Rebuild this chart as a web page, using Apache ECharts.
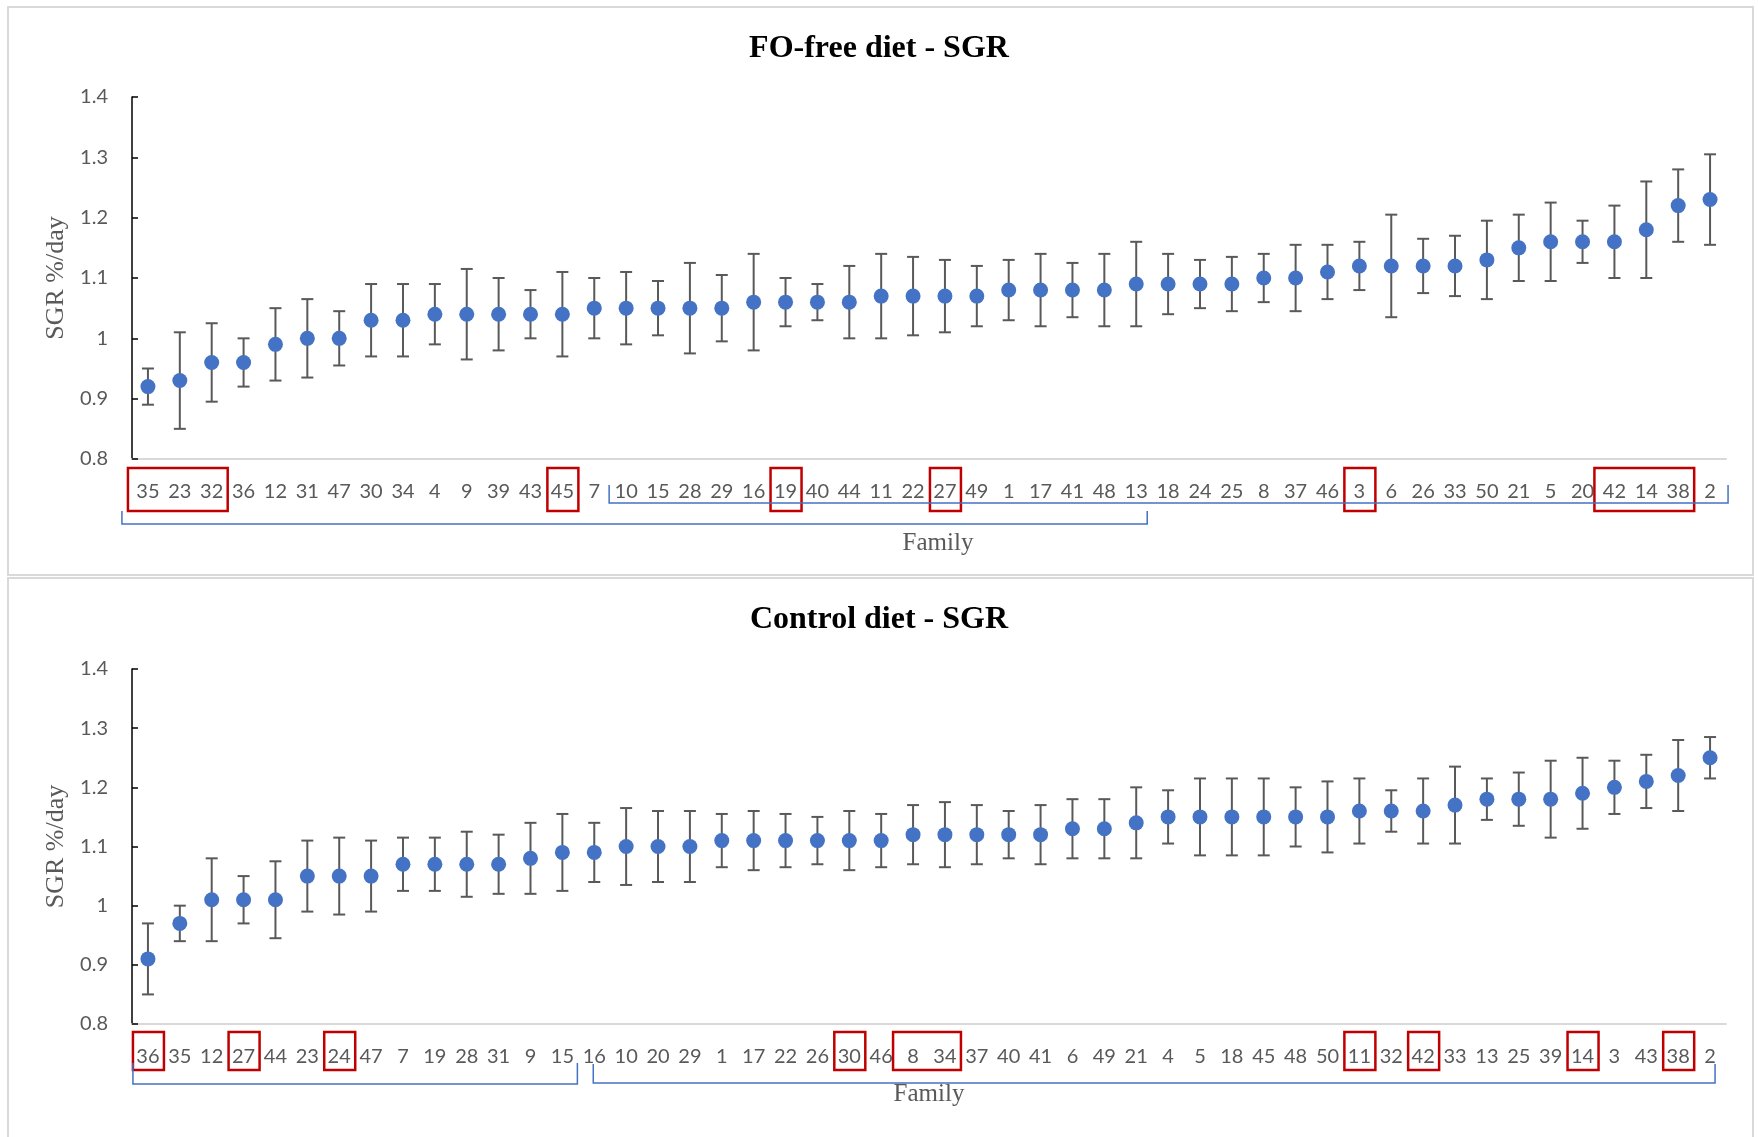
<!DOCTYPE html>
<html>
<head>
<meta charset="utf-8">
<script src="https://cdn.jsdelivr.net/npm/echarts@6/dist/echarts.min.js"></script>
<style>
  html, body { margin: 0; padding: 0; background: #ffffff; }
  #chart { width: 1758px; height: 1137px; }
</style>
</head>
<body>
<div id="chart"></div>
<script>
// Families ranked by SGR, fish-oil-free diet
const foFreeFamilies = [35, 23, 32, 36, 12, 31, 47, 30, 34, 4, 9, 39, 43, 45, 7, 10, 15, 28, 29, 16,
  19, 40, 44, 11, 22, 27, 49, 1, 17, 41, 48, 13, 18, 24, 25, 8, 37, 46, 3, 6,
  26, 33, 50, 21, 5, 20, 42, 14, 38, 2];
const foFreeSGR = [0.92, 0.93, 0.96, 0.96, 0.99, 1.00, 1.00, 1.03, 1.03, 1.04, 1.04, 1.04, 1.04, 1.04, 1.05, 1.05, 1.05, 1.05, 1.05, 1.06,
  1.06, 1.06, 1.06, 1.07, 1.07, 1.07, 1.07, 1.08, 1.08, 1.08, 1.08, 1.09, 1.09, 1.09, 1.09, 1.10, 1.10, 1.11, 1.12, 1.12,
  1.12, 1.12, 1.13, 1.15, 1.16, 1.16, 1.16, 1.18, 1.22, 1.23];
const foFreeErr = [0.03, 0.08, 0.065, 0.04, 0.06, 0.065, 0.045, 0.06, 0.06, 0.05, 0.075, 0.06, 0.04, 0.07, 0.05, 0.06, 0.045, 0.075, 0.055, 0.08,
  0.04, 0.03, 0.06, 0.07, 0.065, 0.06, 0.05, 0.05, 0.06, 0.045, 0.06, 0.07, 0.05, 0.04, 0.045, 0.04, 0.055, 0.045, 0.04, 0.085,
  0.045, 0.05, 0.065, 0.055, 0.065, 0.035, 0.06, 0.08, 0.06, 0.075];
const foFreeBoxed = [[35, 23, 32], [45], [19], [27], [3], [42, 14, 38]];
const foFreeGroups = [[35, 13], [10, 2]];

// Families ranked by SGR, control diet
const controlFamilies = [36, 35, 12, 27, 44, 23, 24, 47, 7, 19, 28, 31, 9, 15, 16, 10, 20, 29, 1, 17,
  22, 26, 30, 46, 8, 34, 37, 40, 41, 6, 49, 21, 4, 5, 18, 45, 48, 50, 11, 32,
  42, 33, 13, 25, 39, 14, 3, 43, 38, 2];
const controlSGR = [0.91, 0.97, 1.01, 1.01, 1.01, 1.05, 1.05, 1.05, 1.07, 1.07, 1.07, 1.07, 1.08, 1.09, 1.09, 1.10, 1.10, 1.10, 1.11, 1.11,
  1.11, 1.11, 1.11, 1.11, 1.12, 1.12, 1.12, 1.12, 1.12, 1.13, 1.13, 1.14, 1.15, 1.15, 1.15, 1.15, 1.15, 1.15, 1.16, 1.16,
  1.16, 1.17, 1.18, 1.18, 1.18, 1.19, 1.20, 1.21, 1.22, 1.25];
const controlErr = [0.06, 0.03, 0.07, 0.04, 0.065, 0.06, 0.065, 0.06, 0.045, 0.045, 0.055, 0.05, 0.06, 0.065, 0.05, 0.065, 0.06, 0.06, 0.045, 0.05,
  0.045, 0.04, 0.05, 0.045, 0.05, 0.055, 0.05, 0.04, 0.05, 0.05, 0.05, 0.06, 0.045, 0.065, 0.065, 0.065, 0.05, 0.06, 0.055, 0.035,
  0.055, 0.065, 0.035, 0.045, 0.065, 0.06, 0.045, 0.045, 0.06, 0.035];
const controlBoxed = [[36], [27], [24], [30], [8, 34], [11], [42], [14], [38]];
const controlGroups = [[36, 15], [16, 2]];

const yTicks = { min: 0.8, max: 1.4, step: 0.1 };

const BLUE = '#4472C4';
const GREY = '#595959';
const RED = '#C00000';

// Vertical whiskers with end caps
function errorBarRender(params, api) {
  const x = api.value(0);
  const lo = api.coord([x, api.value(1)]);
  const hi = api.coord([x, api.value(2)]);
  const cap = 6;
  const style = { stroke: GREY, lineWidth: 2, fill: null };
  return {
    type: 'group',
    children: [
      { type: 'line', shape: { x1: lo[0], y1: lo[1], x2: hi[0], y2: hi[1] }, style },
      { type: 'line', shape: { x1: lo[0] - cap, y1: lo[1], x2: lo[0] + cap, y2: lo[1] }, style },
      { type: 'line', shape: { x1: hi[0] - cap, y1: hi[1], x2: hi[0] + cap, y2: hi[1] }, style }
    ]
  };
}

// Red frames around highlighted family labels
function boxRender(top, bottom) {
  return function (params, api) {
    const a = api.coord([api.value(0), yTicks.min]);
    const b = api.coord([api.value(2), yTicks.min]);
    const single = api.value(0) === api.value(2);
    const padL = single ? 15 : 20;
    const padR = 16;
    return {
      type: 'rect',
      shape: { x: a[0] - padL, y: a[1] + top, width: b[0] - a[0] + padL + padR, height: bottom - top },
      style: { stroke: RED, lineWidth: 2.5, fill: null }
    };
  };
}

// Blue brackets grouping family labels; layout per bracket
function bracketRender(layouts) {
  return function (params, api) {
    const L = layouts[params.dataIndex];
    const a = api.coord([api.value(0), yTicks.min]);
    const b = api.coord([api.value(2), yTicks.min]);
    const x1 = a[0] + L.dl, x2 = b[0] + L.dr;
    const yLine = a[1] + L.y, yTop = a[1] + L.y - L.h;
    return {
      type: 'polyline',
      shape: { points: [[x1, yTop], [x1, yLine], [x2, yLine], [x2, yTop]] },
      style: { stroke: BLUE, lineWidth: 1.5, fill: null }
    };
  };
}

function idxRanges(families, groups) {
  return groups.map(g => [families.indexOf(g[0]), 1, families.indexOf(g[g.length - 1])]);
}

function panelSeries(k, families, sgr, err, boxed, groups, boxTop, boxBottom, bracketLayouts) {
  return [
    {
      type: 'custom', xAxisIndex: k, yAxisIndex: k, z: 2, clip: false,
      renderItem: errorBarRender,
      data: sgr.map((v, i) => [i, +(v - err[i]).toFixed(3), +(v + err[i]).toFixed(3)])
    },
    {
      type: 'scatter', xAxisIndex: k, yAxisIndex: k, z: 3,
      symbol: 'circle', symbolSize: 15,
      itemStyle: { color: BLUE, opacity: 1 },
      data: sgr
    },
    {
      type: 'custom', xAxisIndex: k, yAxisIndex: k, z: 4, clip: false, silent: true,
      renderItem: boxRender(boxTop, boxBottom),
      data: idxRanges(families, boxed)
    },
    {
      type: 'custom', xAxisIndex: k, yAxisIndex: k, z: 4, clip: false, silent: true,
      renderItem: bracketRender(bracketLayouts),
      data: idxRanges(families, groups)
    }
  ];
}

function xAxisFor(k, families, nameGap, nameShift) {
  return {
    gridIndex: k, type: 'category', boundaryGap: true,
    data: families.map(String),
    axisLine: { show: true, lineStyle: { color: '#d9d9d9', width: 2 } },
    axisTick: { show: false },
    axisLabel: { interval: 0, margin: 23, fontFamily: 'Lato', fontSize: 20, color: GREY },
    splitLine: { show: false },
    name: 'Family', nameLocation: 'middle', nameGap: nameGap,
    nameTextStyle: { fontFamily: 'Liberation Serif', fontSize: 25, color: GREY, padding: [0, 0, 0, nameShift] }
  };
}

function yAxisFor(k) {
  return {
    gridIndex: k, type: 'value',
    min: yTicks.min, max: yTicks.max, interval: yTicks.step,
    axisLine: { show: true, lineStyle: { color: '#000000', width: 1.5 } },
    axisTick: { show: true, inside: true, length: 6, lineStyle: { color: '#000000', width: 1.5 } },
    axisLabel: { margin: 24, fontFamily: 'Lato', fontSize: 20, color: GREY },
    splitLine: { show: false },
    name: 'SGR %/day', nameLocation: 'middle', nameRotate: 90, nameGap: 62,
    nameTextStyle: { fontFamily: 'Liberation Serif', fontSize: 26, color: GREY }
  };
}

const titleStyle = { fontFamily: 'Liberation Serif', fontWeight: 'bold', fontSize: 32, color: '#000000' };

const chart = echarts.init(document.getElementById('chart'), null, { renderer: 'canvas' });
chart.setOption({
  animation: false,
  backgroundColor: '#ffffff',
  title: [
    { text: 'FO-free diet - SGR', left: 'center', top: 28, textStyle: titleStyle },
    { text: 'Control diet - SGR', left: 'center', top: 599, textStyle: titleStyle }
  ],
  graphic: [
    { type: 'rect', shape: { x: 8, y: 7, width: 1745, height: 568 }, style: { stroke: '#d9d9d9', lineWidth: 2, fill: null }, silent: true },
    { type: 'rect', shape: { x: 8, y: 578, width: 1745, height: 570 }, style: { stroke: '#d9d9d9', lineWidth: 2, fill: null }, silent: true }
  ],
  grid: [
    { left: 132, top: 97, width: 1594, height: 362 },
    { left: 132, top: 669, width: 1594, height: 355 }
  ],
  xAxis: [xAxisFor(0, foFreeFamilies, 72, 18), xAxisFor(1, controlFamilies, 58, 0)],
  yAxis: [yAxisFor(0), yAxisFor(1)],
  series: [].concat(
    panelSeries(0, foFreeFamilies, foFreeSGR, foFreeErr, foFreeBoxed, foFreeGroups, 9, 52, [
      { dl: -26, dr: 11, y: 65, h: 13 },
      { dl: -17, dr: 18, y: 44, h: 18 }
    ]),
    panelSeries(1, controlFamilies, controlSGR, controlErr, controlBoxed, controlGroups, 8, 46, [
      { dl: -15, dr: 15, y: 60, h: 21 },
      { dl: -1, dr: 5, y: 59, h: 19 }
    ])
  )
});
</script>
</body>
</html>
